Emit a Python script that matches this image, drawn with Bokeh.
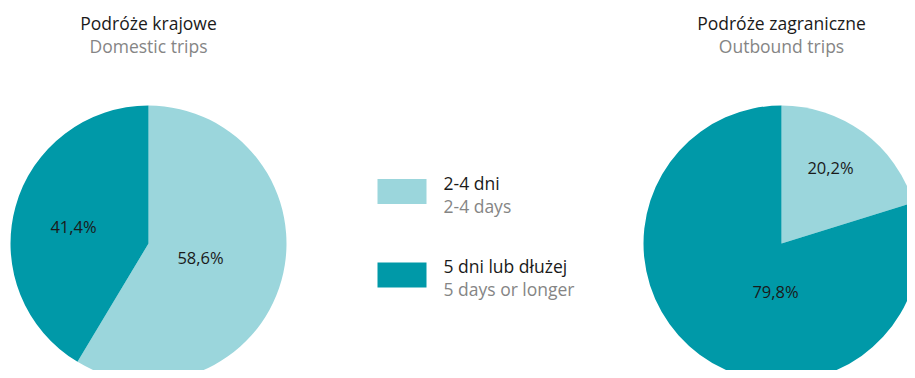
import math
from bokeh.plotting import figure
from bokeh.models import Range1d
from bokeh.core.properties import value
from bokeh.embed import file_html
from bokeh.resources import INLINE

# ---- data ----
categories_pl = ["2-4 dni", "5 dni lub dłużej"]
categories_en = ["2-4 days", "5 days or longer"]
domestic = [58.6, 41.4]
outbound = [20.2, 79.8]
pie_titles_pl = ["Podróże krajowe", "Podróże zagraniczne"]
pie_titles_en = ["Domestic trips", "Outbound trips"]

colors = ["#9BD6DC", "#0099A8"]
DARK = "#1a1a1a"
GRAY = "#858585"
FONT = value("Open Sans")
FS = "17.5px"
FS_LBL = "16.5px"

W, H = 907, 370
p = figure(width=W, height=H, output_backend="svg", toolbar_location=None,
           x_range=Range1d(0, W), y_range=Range1d(-H, 0),
           min_border=0, outline_line_color=None)
p.axis.visible = False
p.grid.visible = False
p.background_fill_color = "white"
p.border_fill_color = "white"

R = 138
centers = [(148, -243), (781, -243)]
label_pos = [[(200, -257), (73, -226)], [(830, -167), (775, -291)]]

def fmt(v):
    return ("%.1f%%" % v).replace(".", ",")

for (cx, cy), vals, lbls, tpl, ten in zip(centers, [domestic, outbound], label_pos,
                                          pie_titles_pl, pie_titles_en):
    total = sum(vals)
    start = math.pi / 2
    for v, c in zip(vals, colors):
        end = start - 2 * math.pi * v / total
        p.wedge(x=cx, y=cy, radius=R, start_angle=start, end_angle=end,
                direction="clock", fill_color=c, line_color=None)
        start = end
    for v, (lx, ly) in zip(vals, lbls):
        p.text(x=[lx], y=[ly], text=[fmt(v)], text_align="center",
               text_baseline="middle", text_font=FONT, text_font_size=FS_LBL,
               text_color=DARK)
    p.text(x=[cx], y=[-22], text=[tpl], text_align="center", text_baseline="middle",
           text_font=FONT, text_font_size=FS, text_color=DARK)
    p.text(x=[cx], y=[-45], text=[ten], text_align="center", text_baseline="middle",
           text_font=FONT, text_font_size=FS, text_color=GRAY)

# legend
leg_y = [-191, -274.5]
for c, pl, en, ly in zip(colors, categories_pl, categories_en, leg_y):
    p.rect(x=[401.5], y=[ly], width=49, height=25, fill_color=c, line_color=None)
    p.text(x=[443], y=[ly + 9], text=[pl], text_align="left", text_baseline="middle",
           text_font=FONT, text_font_size=FS, text_color=DARK)
    p.text(x=[443], y=[ly - 14], text=[en], text_align="left", text_baseline="middle",
           text_font=FONT, text_font_size=FS, text_color=GRAY)

open("out.html", "w").write(file_html(p, INLINE))
